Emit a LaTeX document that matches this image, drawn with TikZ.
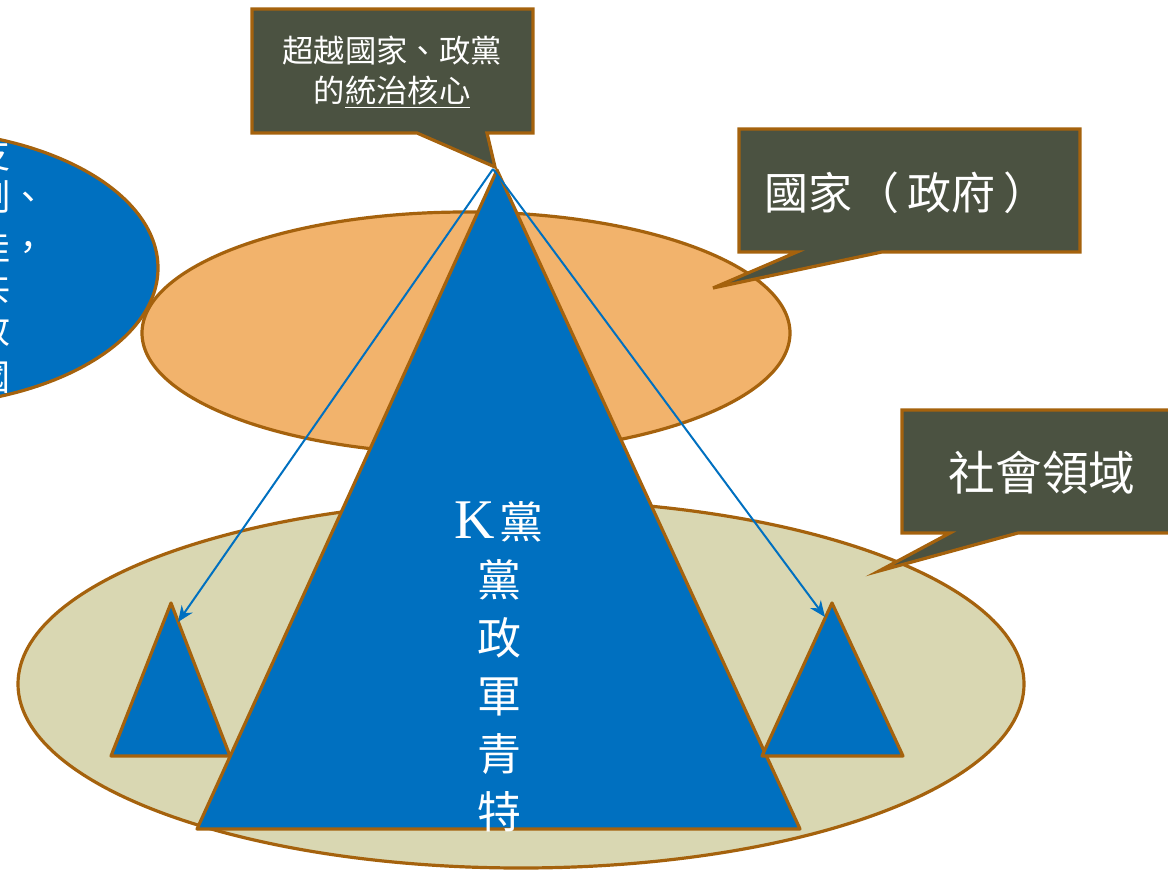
\documentclass[tikz,border=0pt]{standalone}
\usepackage{fontspec}
\usetikzlibrary{arrows.meta}
\newfontfamily\cjk{Noto Sans CJK TC}
\newfontfamily\latinserif{Liberation Serif}
\definecolor{boxfill}{HTML}{4B5241}
\definecolor{brownline}{HTML}{A5620D}
\definecolor{pblue}{HTML}{0070C0}
\definecolor{orangefill}{HTML}{F2B36C}
\definecolor{beigefill}{HTML}{D9D7B2}
\tikzset{
  callout/.style={draw=brownline, fill=boxfill, line width=2.4pt, line join=miter},
  shapeline/.style={draw=brownline, line width=2.4pt, line join=round},
  linkarrow/.style={draw=pblue, line width=1.5pt, -{Stealth[length=12pt,width=10pt]}},
  wtext/.style={text=white, inner sep=0pt},
}
\begin{document}
\begin{tikzpicture}[x=0.75pt,y=-0.75pt]
\useasboundingbox (0,0) rectangle (1168,871);
\clip (0,0) rectangle (1168,871);

% left blue ellipse (cut off)
\draw[shapeline, fill=pblue] (-92,268) ellipse [x radius=250, y radius=138];
\begin{scope}
  \clip (-92,268) ellipse [x radius=248, y radius=136];
  \node[wtext, anchor=east, font=\cjk\fontsize{27}{27}\selectfont] (l1) at (11,155) {支};
  \node[wtext, anchor=east, font=\cjk\fontsize{27}{27}\selectfont] (l2) at (47,197) {制、};
  \node[wtext, anchor=east, font=\cjk\fontsize{27}{27}\selectfont] (l3) at (47,247) {佳，};
  \node[wtext, anchor=east, font=\cjk\fontsize{27}{27}\selectfont] (l4) at (11,287) {共};
  \node[wtext, anchor=east, font=\cjk\fontsize{27}{27}\selectfont] (l5) at (11,330) {政};
  \node[wtext, anchor=east, font=\cjk\fontsize{27}{27}\selectfont] (l6) at (11,378) {國};
\end{scope}

% society ellipse
\draw[shapeline, fill=beigefill] (521,684) ellipse [x radius=503, y radius=184];
% state ellipse
\draw[shapeline, fill=orangefill] (466,333) ellipse [x radius=324, y radius=121];

% big triangle
\coordinate (apex) at (497,170);
\coordinate (bigR) at (800,829);
\coordinate (bigL) at (197,829);
\draw[shapeline, fill=pblue] (apex) -- (bigR) -- (bigL) -- cycle;

% small triangles
\coordinate (ltop) at (171,603);
\coordinate (lR) at (230,756);
\coordinate (lL) at (111,756);
\draw[shapeline, fill=pblue] (ltop) -- (lR) -- (lL) -- cycle;
\coordinate (rtop) at (832,603);
\coordinate (rR) at (903,756);
\coordinate (rL) at (762,756);
\draw[shapeline, fill=pblue] (rtop) -- (rR) -- (rL) -- cycle;

% arrows
\coordinate (src) at (493,169);
\coordinate (ltip) at (178,622);
\coordinate (rtip) at (825,617);
\draw[linkarrow] (src) -- (ltip);
\draw[linkarrow] (src) -- (rtip);

% text in big triangle
\node[wtext, align=center, font=\cjk\fontsize{33}{43.5}\selectfont] (party) at (499,667)
  {{\latinserif\fontsize{42}{42}\selectfont K}\hspace{3pt}黨\\黨\\政\\軍\\青\\特};

% callouts
\draw[callout] (252,9) -- (533,9) -- (533,133) -- (487,133) -- (495,167) -- (417,133) -- (252,133) -- cycle;
\node[wtext, align=center, font=\cjk\fontsize{23.5}{30}\selectfont] (core) at (392,72)
  {超越國家、政黨\\的\underline{統治核心}};

\draw[callout] (739,129) -- (1080,129) -- (1080,252) -- (882,252) -- (713,288) -- (797,252) -- (739,252) -- cycle;
\node[wtext, font=\cjk\fontsize{33}{33}\selectfont] (state) at (906,193) {國家\hspace{3pt}（\hspace{6pt}政府\hspace{6pt}）};

\draw[callout] (902,410) -- (1185,410) -- (1185,533) -- (1018,533) -- (879,571) -- (950,533) -- (902,533) -- cycle;
\node[wtext, font=\cjk\fontsize{35}{35}\selectfont] (society) at (1042,473) {社會領域};
\end{tikzpicture}
\end{document}
